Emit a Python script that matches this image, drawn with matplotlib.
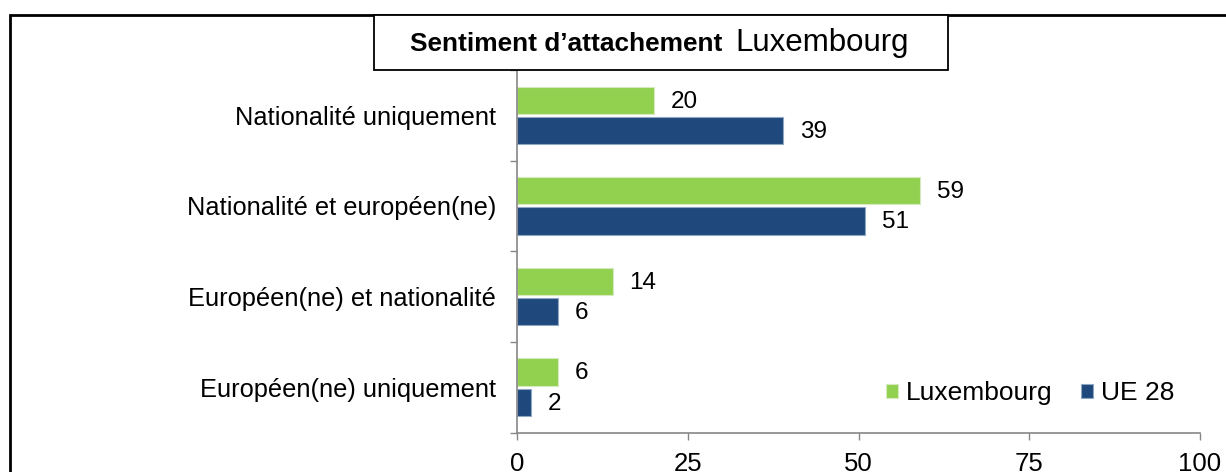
import numpy as np
import matplotlib
matplotlib.use('Agg')
import matplotlib.pyplot as plt
from matplotlib.patches import Rectangle

plt.rcParams['font.family'] = ['Liberation Sans', 'DejaVu Sans']

categories = ['Nationalité uniquement', 'Nationalité et européen(ne)',
              'Européen(ne) et nationalité', 'Européen(ne) uniquement']
luxembourg = [20, 59, 14, 6]
ue28 = [39, 51, 6, 2]
series_names = ['Luxembourg', 'UE 28']
xticks = [0, 25, 50, 75, 100]

GREEN = '#92D050'
BLUE = '#1F497D'
GREY = '#868686'

W, H = 1226, 472
fig = plt.figure(figsize=(W / 100, H / 100), dpi=100)
ax = fig.add_axes([517 / W, 1 - 432.5 / H, 683 / W, (432.5 - 70) / H])

y = np.arange(len(categories))
h = 0.3
off = 0.167
b1 = ax.barh(y - off, luxembourg, height=h, color=GREEN, edgecolor='#d6ebbd', lw=0.8, label=series_names[0])
b2 = ax.barh(y + off, ue28, height=h, color=BLUE, edgecolor='#8fa6c4', lw=0.8, label=series_names[1])

# value labels next to each bar
for vals, ys in ((luxembourg, y - off), (ue28, y + off)):
    for v, yy in zip(vals, ys):
        ax.annotate(f'{v}', (v, yy), xytext=(12, -1), textcoords='offset points',
                    va='center', ha='left', fontsize=17.5)

ax.set_xlim(0, 100)
ax.set_ylim(len(categories) - 0.5, -0.5)
ax.set_xticks(xticks)
ax.set_xticklabels([str(t) for t in xticks])
ax.set_yticks(np.arange(-0.5, len(categories), 1.0))
ax.set_yticklabels([])
ax.set_yticks(y, minor=True)
ax.set_yticklabels(categories, minor=True)

ax.tick_params(axis='x', length=4.8, width=1, color=GREY, labelsize=18.5, pad=9)
ax.tick_params(axis='y', which='major', length=5, width=1, color=GREY)
ax.tick_params(axis='y', which='minor', length=0, labelsize=18.3, pad=15)

for side in ('top', 'right'):
    ax.spines[side].set_visible(False)
for side in ('left', 'bottom'):
    ax.spines[side].set_color(GREY)
    ax.spines[side].set_linewidth(1.2)

ax.legend(handles=[b1, b2], ncol=2, loc='center left',
          bbox_to_anchor=((886 - 517) / 683, (432.5 - 393) / 362.5),
          frameon=False, fontsize=19, handlelength=0.45, handleheight=0.45,
          handletextpad=0.3, columnspacing=1.1, borderpad=0, borderaxespad=0)

# outer frame and title box
fig.patches.append(Rectangle((10 / W, -0.1), 1.2, 1 - 14.5 / H + 0.1,
                             transform=fig.transFigure, fill=False,
                             ec='black', lw=2, zorder=4))
fig.patches.append(Rectangle((374 / W, 1 - 70 / H), (948 - 374) / W, (70 - 14.5) / H,
                             transform=fig.transFigure, fc='white',
                             ec='black', lw=1.3, zorder=5))
fig.text(410 / W, 1 - 51 / H, 'Sentiment d’attachement', fontsize=18.9,
         fontweight='bold', ha='left', va='baseline', zorder=6)
fig.text(735 / W, 1 - 51 / H, 'Luxembourg', fontsize=22.5,
         ha='left', va='baseline', zorder=6)

fig.savefig('out.png', dpi=100)
